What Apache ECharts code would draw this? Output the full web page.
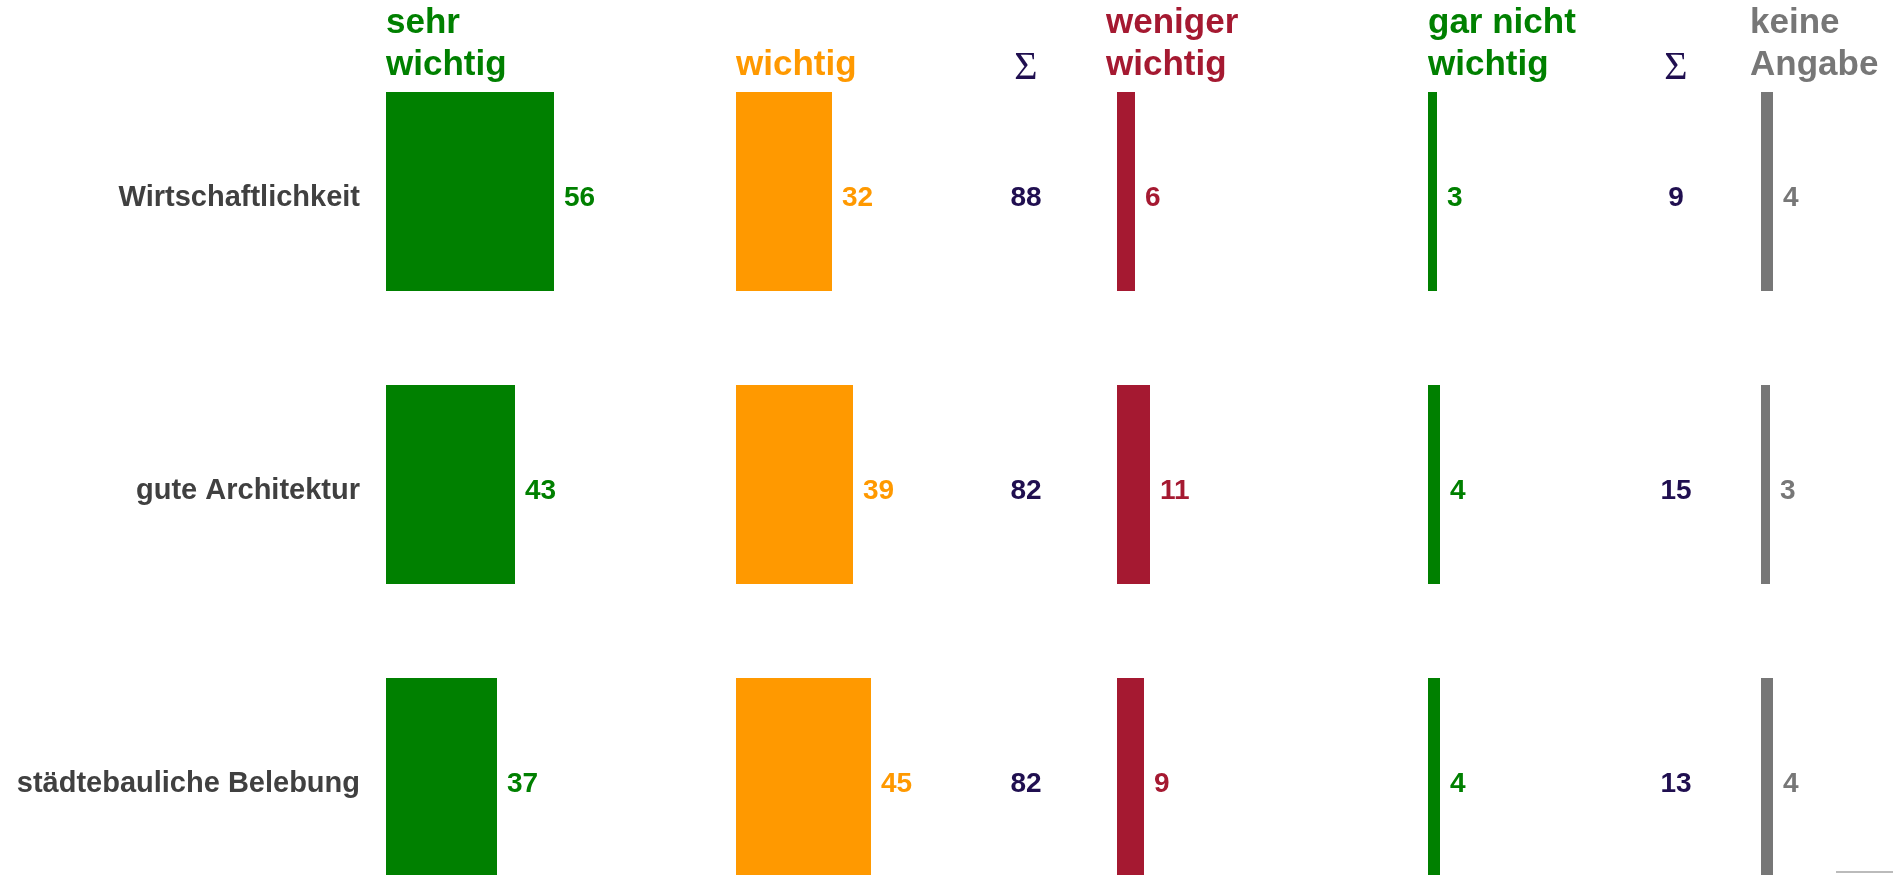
<!DOCTYPE html>
<html>
<head>
<meta charset="utf-8">
<script src="https://cdn.jsdelivr.net/npm/echarts@6/dist/echarts.min.js"></script>
<style>
  html, body { margin: 0; padding: 0; background: #fff; }
  #chart { width: 1893px; height: 875px; }
</style>
</head>
<body>
<div id="chart"></div>
<script>
const categories = ['Wirtschaftlichkeit', 'gute Architektur', 'städtebauliche Belebung']
const sehrWichtig = [56, 43, 37]
const wichtig = [32, 39, 45]
const sumWichtig = [88, 82, 82]
const wenigerWichtig = [6, 11, 9]
const garNichtWichtig = [3, 4, 4]
const sumUnwichtig = [9, 15, 13]
const keineAngabe = [4, 3, 4]

const FONT = '"Liberation Sans", Arial, sans-serif'
const PX_PER_UNIT = 3
const GRID_TOP = 45
const GRID_HEIGHT = 879

// bar columns: header, data, colour, left edge of bars, header x
const barCols = [
  { header: 'sehr\nwichtig', data: sehrWichtig, color: '#008000', left: 386, hx: 386 },
  { header: 'wichtig', data: wichtig, color: '#ff9900', left: 736, hx: 736 },
  { header: 'weniger\nwichtig', data: wenigerWichtig, color: '#a51931', left: 1117, hx: 1106 },
  { header: 'gar nicht\nwichtig', data: garNichtWichtig, color: '#008000', left: 1428, hx: 1428 },
  { header: 'keine\nAngabe', data: keineAngabe, color: '#777777', left: 1761, hx: 1750 }
]
// sum columns: centre x
const sumCols = [
  { data: sumWichtig, center: 1026 },
  { data: sumUnwichtig, center: 1676 }
]
const NAVY = '#200f50'

const grids = [], xAxes = [], yAxes = [], series = [], graphics = []

barCols.forEach((col, i) => {
  grids.push({
    left: col.left, top: GRID_TOP, width: 100 * PX_PER_UNIT, height: GRID_HEIGHT,
    outerBoundsMode: 'none'
  })
  xAxes.push({ type: 'value', gridIndex: i, min: 0, max: 100, show: false })
  yAxes.push({
    type: 'category', gridIndex: i, data: categories, inverse: true,
    axisLine: { show: false }, axisTick: { show: false }, splitLine: { show: false },
    axisLabel: {
      show: i === 0, margin: 26, fontFamily: FONT, fontSize: 29,
      fontWeight: 'bold', color: '#404040',
      verticalAlign: 'top', lineHeight: 12
    }
  })
  series.push({
    type: 'bar', xAxisIndex: i, yAxisIndex: i, data: col.data,
    barWidth: 199, itemStyle: { color: col.color },
    label: {
      show: true, position: 'right', distance: 10, offset: [0, 7],
      fontFamily: FONT, fontSize: 28, fontWeight: 'bold', color: col.color
    },
    silent: true
  })
  graphics.push({
    type: 'text', x: col.hx, y: 86,
    style: {
      text: col.header, fill: col.color, font: 'bold 35px ' + FONT,
      lineHeight: 42, textAlign: 'left', textVerticalAlign: 'bottom'
    }
  })
})

sumCols.forEach((col, j) => {
  const g = barCols.length + j
  grids.push({
    left: col.center - 50, top: GRID_TOP, width: 100, height: GRID_HEIGHT,
    outerBoundsMode: 'none'
  })
  xAxes.push({ type: 'value', gridIndex: g, min: -1, max: 1, show: false })
  yAxes.push({
    type: 'category', gridIndex: g, data: categories, inverse: true, show: false
  })
  series.push({
    type: 'scatter', xAxisIndex: g, yAxisIndex: g,
    data: col.data.map((v, k) => [0, k, v]),
    symbolSize: 2, itemStyle: { color: 'rgba(0,0,0,0)', opacity: 1 },
    label: {
      show: true, position: 'inside', offset: [0, 7],
      formatter: p => p.value[2],
      fontFamily: FONT, fontSize: 28, fontWeight: 'bold', color: NAVY
    },
    silent: true
  })
  graphics.push({
    type: 'text', x: col.center, y: 88,
    style: {
      text: 'Σ', fill: NAVY, font: '40px "Liberation Serif", "DejaVu Serif", serif',
      textAlign: 'center', textVerticalAlign: 'bottom'
    }
  })
})

// small grey mark in the bottom right corner
graphics.push({
  type: 'rect', shape: { x: 1836, y: 871, width: 57, height: 2 },
  style: { fill: '#bbbbbb' }
})

const chart = echarts.init(document.getElementById('chart'))
chart.setOption({
  backgroundColor: '#ffffff',
  animation: false,
  grid: grids,
  xAxis: xAxes,
  yAxis: yAxes,
  series: series,
  graphic: graphics
})
window.addEventListener('resize', () => chart.resize())
</script>
</body>
</html>
